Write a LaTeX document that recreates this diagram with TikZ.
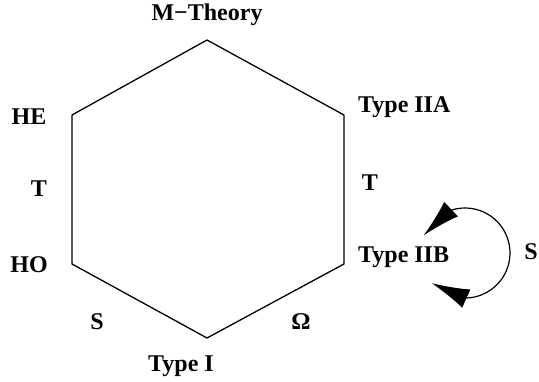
\documentclass[tikz,border=0pt]{standalone}
\usepackage{fontspec}
\setmainfont{Liberation Serif}
\usetikzlibrary{arrows.meta,bending}
\begin{document}
\begin{tikzpicture}[x=1pt,y=-1pt,
  lbl/.style={font=\fontsize{24}{28}\selectfont\bfseries, inner sep=0pt},
  edge/.style={line width=1.3pt, line join=miter},
  bigtip/.tip={Latex[length=38pt,width=20pt,flex]}]
\useasboundingbox (0,0) rectangle (539,382);
% hexagon vertices
\coordinate (vM) at (207,40);
\coordinate (vA) at (344,115);
\coordinate (vB) at (344,264);
\coordinate (vI) at (207,338);
\coordinate (vO) at (72,264);
\coordinate (vE) at (72,115);
\draw[edge] (vM) -- (vA) -- (vB) -- (vI) -- (vO) -- (vE) -- cycle;
% labels
\node[lbl] (mth) at (207,15) {M−Theory};
\node[lbl, anchor=west] (iia) at (358,107) {Type IIA};
\node[lbl] (tr) at (370,183) {T};
\node[lbl, anchor=west] (iib) at (358,257) {Type IIB};
\node[lbl] (sr) at (531,252) {S};
\node[lbl] (om) at (301,322) {Ω};
\node[lbl] (ti) at (181,366) {Type I};
\node[lbl] (sl) at (97,322) {S};
\node[lbl] (ho) at (29,265) {HO};
\node[lbl] (tl) at (39,189) {T};
\node[lbl] (he) at (29,117) {HE};
% self loop on Type IIB
\coordinate (c) at (465,253);
\draw[line width=1.2pt, {bigtip}-{bigtip}] ([shift={(-157:45)}]c) arc[start angle=-157, end angle=138, radius=45];
\end{tikzpicture}
\end{document}
